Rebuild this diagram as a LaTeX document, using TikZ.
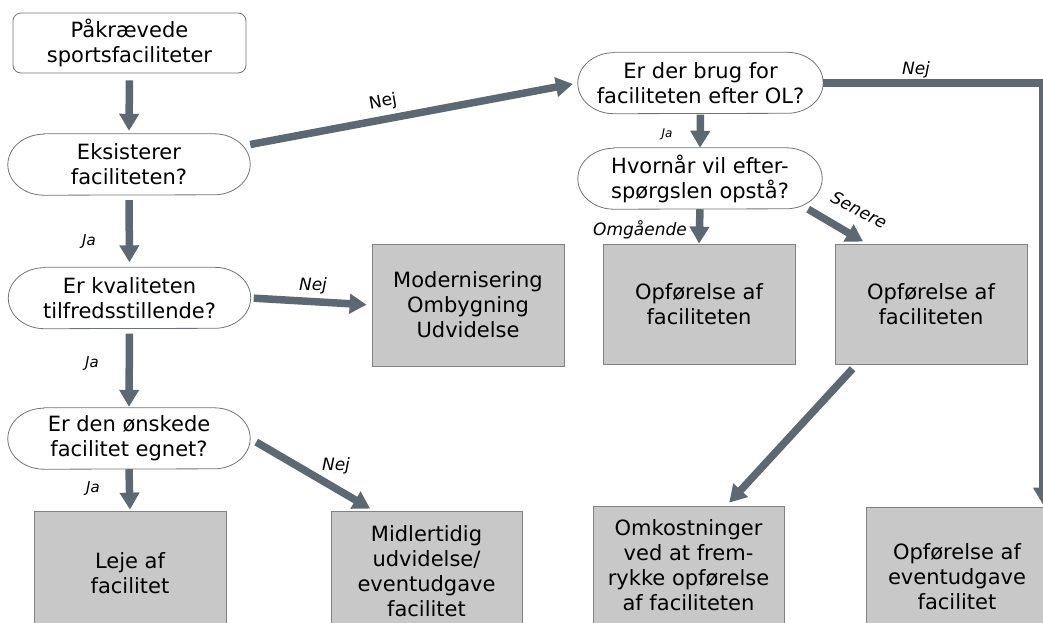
\documentclass[tikz,border=0pt]{standalone}
\usepackage{fontspec}
\setmainfont{DejaVu Sans}[ItalicFont={DejaVu Sans Oblique}]
\usepackage{tikz}
\usetikzlibrary{arrows.meta,calc}
\definecolor{flowgray}{RGB}{94,104,114}
\definecolor{boxfill}{RGB}{200,200,200}
\definecolor{boxedge}{RGB}{130,130,130}
\definecolor{edgegray}{RGB}{110,116,122}

\newcommand{\mainsize}{\fontsize{21}{25}\selectfont}
\newcommand{\labsize}{\fontsize{17}{20}\selectfont\itshape}
\newcommand{\jasize}{\fontsize{15}{18}\selectfont\itshape}

% outline of a question node: flat top and bottom, elliptic ends
\newcommand{\decisionrim}[1]{%
  \draw[rim] ($(#1.north west)+(36pt,0pt)$) -- ($(#1.north east)+(-36pt,0pt)$)
    arc[start angle=90, end angle=-90, x radius=36pt, y radius=30.5pt]
    -- ($(#1.south west)+(36pt,0pt)$)
    arc[start angle=270, end angle=90, x radius=36pt, y radius=30.5pt] -- cycle;}

\begin{document}
\begin{tikzpicture}[x=1pt, y=-1pt,
    startbox/.style={draw=edgegray, line width=0.8pt, rounded corners=8pt, minimum width=233pt, minimum height=60pt, align=center, font=\mainsize, inner sep=0pt},
    decision/.style={minimum width=242pt, minimum height=61pt, align=center, font=\mainsize, inner sep=0pt},
    rim/.style={draw=edgegray, line width=0.8pt},
    outcome/.style={draw=boxedge, fill=boxfill, line width=0.8pt, minimum width=192pt, align=center, font=\mainsize, inner sep=0pt},
    flow/.style={draw=flowgray, line width=7.5pt, -{Triangle[width=19pt,length=17pt]}},
    lbl/.style={font=\labsize, inner sep=0pt}
]
\useasboundingbox (0,0) rectangle (1043,622);
\clip (0,0) rectangle (1043,622);

% left column
\node[startbox] (need) at (129.5,43) {Påkrævede\\sportsfaciliteter};
\node[decision] (exists) at (129,164.5) {Eksisterer\\faciliteten?};
\node[decision] (quality) at (129.5,298) {Er kvaliteten\\tilfredsstillende?};
\node[decision] (suitable) at (129,438.5) {Er den ønskede\\facilitet egnet?};
\node[outcome, minimum height=124pt] (rent) at (130,573) {Leje af\\facilitet};
\node[outcome, minimum height=120pt, minimum width=191pt] (temp) at (426.5,571) {Midlertidig\\udvidelse/\\eventudgave\\facilitet};
\node[outcome, minimum height=122pt] (modern) at (468,305) {Modernisering\\Ombygning\\Udvidelse};

% right column
\node[decision, minimum width=245pt] (needafter) at (700.5,83) {Er der brug for\\faciliteten efter OL?};
\node[decision, minimum width=244pt] (when) at (700,178.5) {Hvornår vil efter-\\spørgslen opstå?};
\node[outcome, minimum height=120pt] (buildnow) at (699,304) {Opførelse af\\faciliteten};
\node[outcome, minimum height=120pt] (buildlater) at (931,304) {Opførelse af\\faciliteten};
\node[outcome, minimum height=118pt, minimum width=191pt] (advance) at (688.5,565) {Omkostninger\\ved at frem-\\rykke opførelse\\af faciliteten};
\node[outcome, minimum height=140pt, minimum width=182pt] (eventbuild) at (957,577) {Opførelse af\\eventudgave\\facilitet};

\decisionrim{exists}
\decisionrim{quality}
\decisionrim{suitable}
\decisionrim{needafter}
\decisionrim{when}

% arrows
\draw[flow, shorten <=7pt, shorten >=3pt] (need.south) -- (exists.north);
\draw[flow, shorten <=5pt, shorten >=5pt] (exists.south) -- (quality.north);
\draw[flow, shorten <=5pt, shorten >=1pt] (quality.south) -- (suitable.north);
\draw[flow, shorten >=1pt] (suitable.south) -- (rent.north);
\draw[flow, shorten <=3pt, shorten >=5pt] (quality.east) -- (modern.west);
\draw[flow, shorten <=7pt, shorten >=4pt] (suitable.east) -- ([xshift=43pt]temp.north west);
\draw[flow, shorten >=5pt] ([yshift=20pt]exists.east) -- (needafter.west);
\draw[flow, shorten <=1pt] (needafter.south) -- (when.north);
\coordinate (nejcorner) at (1043,83);
\draw[flow, line join=miter, shorten >=2pt] (needafter.east) -- (nejcorner) -- (nejcorner |- eventbuild.north);
\draw[flow] (when.south) -- (buildnow.north);
\draw[flow, shorten >=4pt] ([xshift=-14pt]when.south east) -- ([xshift=32pt]buildlater.north west);
\draw[flow, shorten <=6pt, shorten >=4pt] ([xshift=22pt]buildlater.south west) -- ([xshift=38pt]advance.north);

% labels
\node[lbl, font=\jasize] (ja1) at (89,242) {Ja};
\node[lbl, font=\jasize] (ja2) at (92,364) {Ja};
\node[lbl, font=\jasize] (ja3) at (93,489) {Ja};
\node[lbl] (nejmod) at (313,286) {Nej};
\node[lbl] (nejtemp) at (336,466) {Nej};
\node[lbl, font=\fontsize{17}{20}\selectfont, rotate=10] (nejup) at (383,102) {Nej};
\node[lbl] (nejright) at (916,70) {Nej};
\node[lbl, font=\fontsize{12}{14}\selectfont\itshape] (ja4) at (667,134) {Ja};
\node[lbl] (omg) at (640,230) {Omgående};
\node[lbl, rotate=-27] (later) at (859,210) {Senere};
\end{tikzpicture}
\end{document}
